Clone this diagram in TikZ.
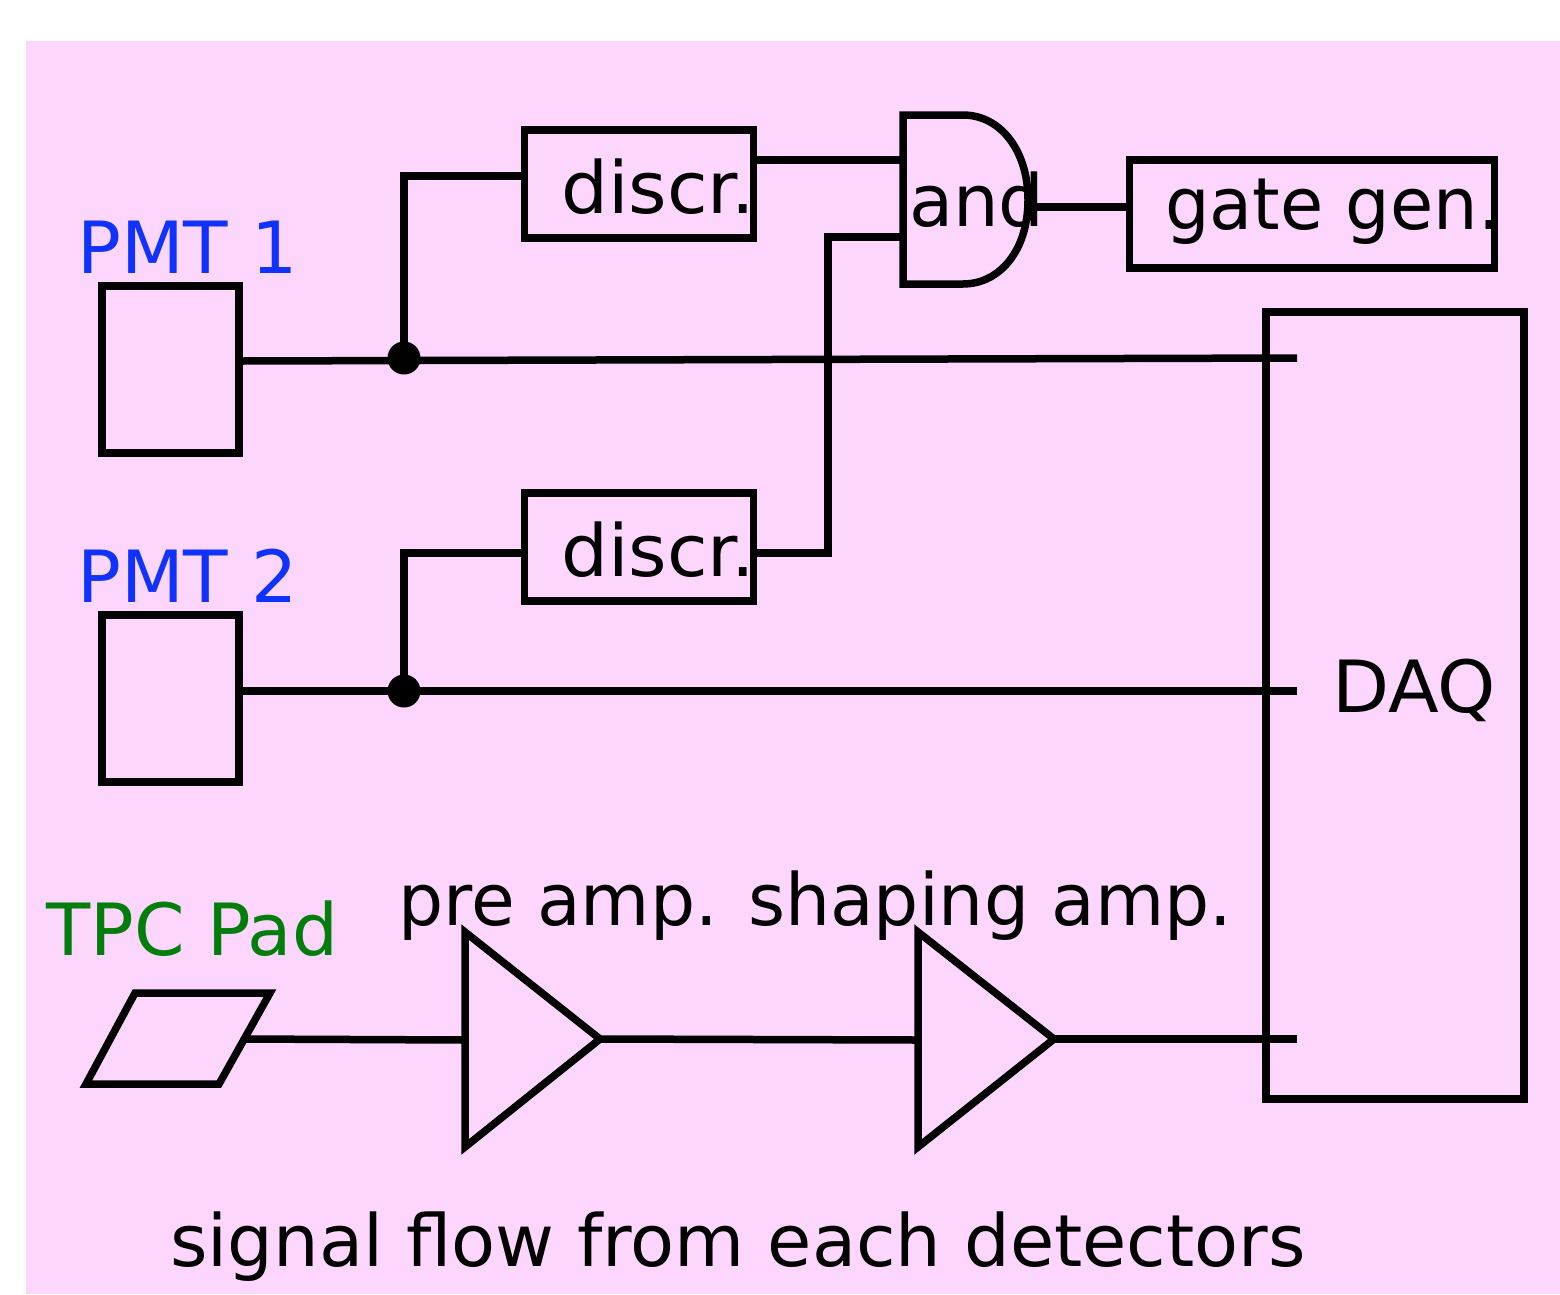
\documentclass[tikz,border=0pt]{standalone}
\usepackage{fontspec}
\setmainfont{DejaVu Sans}
\definecolor{bgpink}{RGB}{253,214,254}
\definecolor{pmtblue}{RGB}{15,50,255}
\definecolor{padgreen}{RGB}{0,125,10}
\tikzset{
  wire/.style={line width=7.5pt,draw=black,line cap=butt,line join=miter},
  lab/.style={inner sep=0pt,anchor=base west,transform shape,font=\fontsize{72}{80}\selectfont},
  dot/.style={circle,fill=black,minimum size=33pt,inner sep=0pt},
  boxnode/.style={draw=black,line width=7.5pt,inner sep=0pt}
}
\begin{document}
\begin{tikzpicture}[x=1pt,y=-1pt]
\useasboundingbox (0,0) rectangle (1560,1294);
\fill[bgpink] (26,41) rectangle (1560,1294);
% boxes
\node[boxnode,minimum width=137pt,minimum height=167pt] (pmta) at (170.5,369.5) {};
\node[boxnode,minimum width=137pt,minimum height=167pt] (pmtb) at (170.5,698.5) {};
\node[boxnode,minimum width=229pt,minimum height=108pt] (d1) at (639,184) {};
\node[boxnode,minimum width=229pt,minimum height=108pt] (d2) at (639,547) {};
\node[boxnode,minimum width=365pt,minimum height=108pt] (gate) at (1312,214) {};
\node[boxnode,minimum width=258pt,minimum height=787pt] (daq) at (1395,705.5) {};
% and gate
\draw[wire] (903,115) -- (963,115) .. controls (1000,115) and (1028,150) .. (1028,200) .. controls (1028,250) and (1000,284) .. (963,284) -- (903,284) -- cycle;
% wire coordinates
\coordinate (p1out) at (241,361);
\coordinate (p2out) at (241,691);
\coordinate (j1) at (404,358);
\coordinate (j2) at (404,691);
\coordinate (c1) at (404,176);
\coordinate (c2) at (404,553);
\coordinate (a1) at (903,160);
\coordinate (a2) at (903,237);
\coordinate (m2) at (828,553);
\coordinate (m1) at (828,237);
\coordinate (d1o) at (753,160);
\coordinate (d2o) at (753,553);
\coordinate (d1i) at (525,176);
\coordinate (d2i) at (525,553);
\coordinate (e1) at (1297,358);
\coordinate (e2) at (1297,691);
\coordinate (e3) at (1297,1039);
\coordinate (ao) at (1034,207);
\coordinate (gi) at (1130,207);
\draw[wire] (p1out) -- (e1);
\draw[wire] (p2out) -- (e2);
\draw[wire] (j1) -- (c1) -- (d1i);
\draw[wire] (j2) -- (c2) -- (d2i);
\draw[wire] (d1o) -- (a1);
\draw[wire] (d2o) -- (m2) -- (m1) -- (a2);
\draw[wire] (ao) -- (gi);
\node[dot] (dota) at (j1) {};
\node[dot] (dotb) at (j2) {};
% pad and amps
\draw[wire] (135,993) -- (270,993) -- (219,1084) -- (86,1084) -- cycle;
\draw[wire] (465,932) -- (600,1039) -- (465,1147) -- cycle;
\draw[wire] (918,932) -- (1054,1039) -- (918,1147) -- cycle;
\coordinate (padout) at (243,1039);
\coordinate (a1i) at (465,1040);
\coordinate (a1o) at (600,1039);
\coordinate (a2i) at (918,1040);
\coordinate (a2o) at (1054,1039);
\draw[wire] (padout) -- (a1i);
\draw[wire] (a1o) -- (a2i);
\draw[wire] (a2o) -- (e3);
% labels
\node[lab,text=pmtblue,xscale=1.01] (t1) at (77,273) {PMT 1};
\node[lab,text=pmtblue,xscale=1.01] (t2) at (77,602) {PMT 2};
\node[lab,text=padgreen,xscale=1.005] (t3) at (46,955) {TPC Pad};
\node[lab,xscale=1.027] (t4) at (561,213) {discr.};
\node[lab,xscale=1.027] (t5) at (561,576) {discr.};
\node[lab,xscale=1.0] (t6) at (909,226) {and};
\node[lab,xscale=.976] (t7) at (1165,229) {gate gen.};
\node[lab,xscale=1.03] (t8) at (1332,712) {DAQ};
\node[lab,xscale=.988] (t9) at (398,925) {pre amp. shaping amp.};
\node[lab] (t10) at (170,1266) {signal flow from each detectors};
\end{tikzpicture}
\end{document}
